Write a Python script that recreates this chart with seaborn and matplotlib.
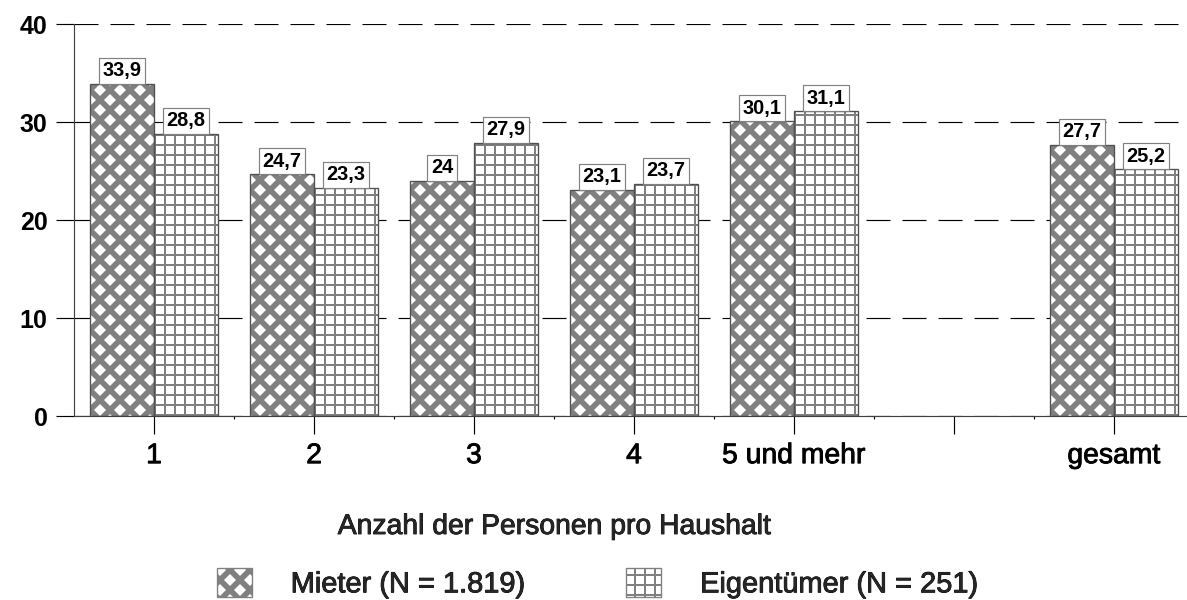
import numpy as np
import pandas as pd
import seaborn as sns
import matplotlib as mpl
import matplotlib.pyplot as plt
import matplotlib.patheffects as pe
from matplotlib.patches import Rectangle

# ---- data ----
categories = ["1", "2", "3", "4", "5 und mehr", " ", "gesamt"]
groups = ["Mieter (N = 1.819)", "Eigentümer (N = 251)"]
mieter = [33.9, 24.7, 24.0, 23.1, 30.1, np.nan, 27.7]
eigentuemer = [28.8, 23.3, 27.9, 23.7, 31.1, np.nan, 25.2]
y_ticks = [0, 10, 20, 30, 40]
x_label = "Anzahl der Personen pro Haushalt"

rows = []
for cat, m, e in zip(categories, mieter, eigentuemer):
    if not np.isnan(m):
        rows.append({"Kategorie": cat, "Gruppe": groups[0], "Wert": m})
    if not np.isnan(e):
        rows.append({"Kategorie": cat, "Gruppe": groups[1], "Wert": e})
df = pd.DataFrame(rows)

# ---- style ----
sns.set_style("white")
plt.rcParams["font.family"] = ["Liberation Sans", "DejaVu Sans"]
plt.rcParams["lines.scale_dashes"] = False

DPI = 120
W, H = 1187, 600
fig = plt.figure(figsize=(W / DPI, H / DPI), dpi=DPI)
fig.patch.set_facecolor("white")

# axes: left spine at x=74 px, y=0 at 416 px, y=40 at 24 px, 160 px per category
ax = fig.add_axes([74 / W, 1 - 416 / H, 1120 / W, 392 / H])

sns.barplot(data=df, x="Kategorie", y="Wert", hue="Gruppe", order=categories,
            hue_order=groups, width=0.8, ax=ax, errorbar=None,
            palette=["white", "white"], legend=False)

GRAY = "#808080"
hatches = ["xx", "++"]
hatch_lw = [3.4, 1.2]
for cont, hatch, hlw in zip(ax.containers, hatches, hatch_lw):
    for p in cont.patches:
        p.set_facecolor("white")
        p.set_edgecolor(GRAY)
        p.set_linewidth(0)
        p.set_hatch(hatch)
        if hasattr(p, "set_hatch_linewidth"):
            p.set_hatch_linewidth(hlw)
        # outline derived from the bar geometry
        ax.add_patch(Rectangle(p.get_xy(), p.get_width(), p.get_height(),
                               fill=False, edgecolor="#505050", linewidth=0.8,
                               zorder=p.get_zorder() + 0.1))

thick = [pe.withStroke(linewidth=0.5, foreground="black")]

# bar labels
for cont in ax.containers:
    labels = [f"{v:g}".replace(".", ",") for v in cont.datavalues]
    ax.bar_label(cont, labels=labels, padding=2.0, fontsize=12,
                 fontweight="bold", color="black",
                 bbox=dict(boxstyle="square,pad=0.17", facecolor="white",
                           edgecolor=GRAY, linewidth=0.7))

ax.set_xlim(-0.5, 6.5)
ax.set_ylim(0, 40)
ax.set_yticks(y_ticks)
ax.set_yticklabels([str(t) for t in y_ticks], fontsize=15, fontweight="bold")
ax.set_xticks(range(len(categories)))
ax.set_xticklabels(categories, fontsize=17)
ax.set_xticks(np.arange(0.5, len(categories) - 1, 1.0), minor=True)
for t in ax.get_xticklabels():
    t.set_path_effects(thick)

ax.tick_params(axis="y", which="major", left=True, direction="out",
               length=10.8, width=0.7, pad=5, colors="black")
ax.tick_params(axis="x", which="major", bottom=True, direction="out",
               length=10.8, width=0.7, pad=5.5, colors="black")
ax.tick_params(axis="x", which="minor", bottom=True, direction="out",
               length=1.8, width=0.7, colors="black")

for s in ["top", "right"]:
    ax.spines[s].set_visible(False)
for s in ["left", "bottom"]:
    ax.spines[s].set_color("#404040")
    ax.spines[s].set_linewidth(0.7)

ax.set_axisbelow(True)
ax.yaxis.grid(True, color="black", linewidth=0.7, linestyle=(0, (14.4, 7.2)))
ax.xaxis.grid(False)

ax.set_ylabel("")
ax.set_xlabel(x_label, fontsize=17)
ax.xaxis.label.set_path_effects(thick)
ax.xaxis.set_label_coords((555 - 74) / 1120, (416 - 514) / 392)

# legend
handles = [c.patches[0] for c in ax.containers]
leg = fig.legend(handles, groups, loc="center left",
                 bbox_to_anchor=(217 / W, 1 - 583 / H), ncol=2, frameon=False,
                 fontsize=17.4, handlelength=1.2, handleheight=1.2,
                 handletextpad=1.34, columnspacing=3.5, borderpad=0,
                 borderaxespad=0)
for h, hlw in zip(leg.legend_handles, hatch_lw):
    if hasattr(h, "set_hatch_linewidth"):
        h.set_hatch_linewidth(hlw)
    h.set_linewidth(0.8)
for t in leg.get_texts():
    t.set_path_effects(thick)

fig.savefig("out.png", dpi=DPI, facecolor="white")
